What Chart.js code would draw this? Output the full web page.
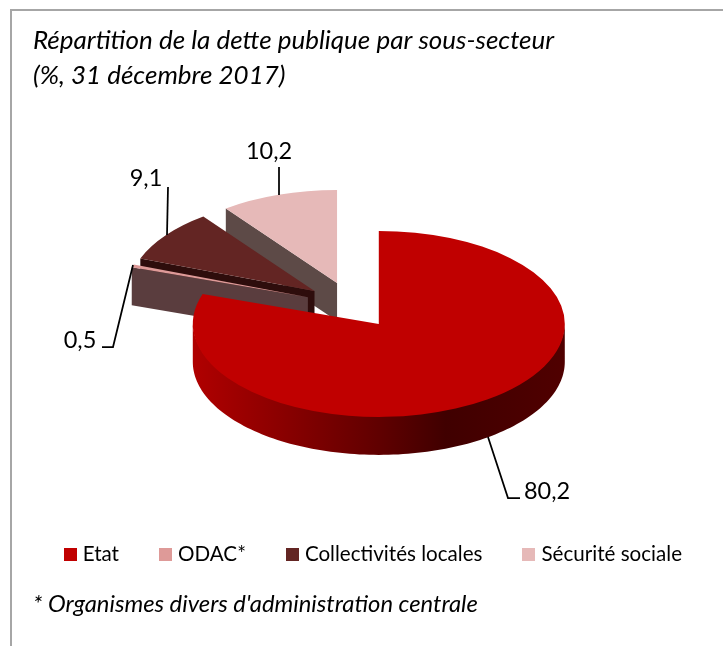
<!DOCTYPE html>
<html lang="fr">
<head>
<meta charset="utf-8">
<style>
html,body{margin:0;padding:0;background:#fff;width:723px;height:646px;overflow:hidden}
#frame{position:absolute;left:10px;top:9px;right:0;bottom:0;border-left:2px solid #a6a6a6;border-top:2px solid #a6a6a6}
canvas{position:absolute;left:0;top:0}
</style>
<script src="https://cdn.jsdelivr.net/npm/chart.js@4/dist/chart.umd.min.js"></script>
</head>
<body>
<div id="frame"></div>
<canvas id="c" width="723" height="646"></canvas>
<script>
const categories = ['Etat', 'ODAC*', 'Collectivités locales', 'Sécurité sociale'];
const values = [80.2, 0.5, 9.1, 10.2];
const valueLabels = ['80,2', '0,5', '9,1', '10,2'];
const topColours = ['#C00000', '#DE9A98', '#632523', '#E6B9B8'];
const wallColours = ['#7a0000', '#5a3d3e', '#2e0d0c', '#5d4a47'];
const titleLines = ['Répartition de la dette publique par sous-secteur', '(%, 31 décembre 2017)'];
const footnote = "* Organismes divers d'administration centrale";

const FONT = 'Lato, Carlito, sans-serif';
const TEXT_LEFT = 33;
const LEGEND_SIZE = 20.6;
const PIE = {cx: 351.7, cy: 305, r: 186, squash: 0.5, depth: 38, explode: 0.25};
const LEADERS = [
  {pts: [[488,437],[508,498],[520,498]], tx: 547, ty: 491},
  {pts: [[102,347],[113,347],[133,265]], tx: 80, ty: 340},
  {pts: [[168,187],[167,235]], tx: 146, ty: 178},
  {pts: [[279,167],[279,195]], tx: 269, ty: 151}
];

function swatch(colour) {
  const s = document.createElement('canvas');
  s.width = 13; s.height = 13;
  const g = s.getContext('2d');
  g.fillStyle = colour; g.fillRect(0, 0, 13, 13);
  return s;
}

const pie3d = {
  id: 'pie3d',
  afterLayout(chart) {
    chart.chartArea = {
      left: PIE.cx - PIE.r, right: PIE.cx + PIE.r,
      top: PIE.cy - PIE.r, bottom: PIE.cy + PIE.r,
      width: PIE.r * 2, height: PIE.r * 2
    };
    const lg = chart.legend;
    const dy = 554 - (lg.top + lg.options.labels.padding + lg.options.labels.font.size / 2);
    lg.top += dy; lg.bottom += dy;
    chart.boxes.forEach(b => {
      if (b !== lg && b.options && b.options.text) { b.left = TEXT_LEFT; }
    });
  },
  beforeDatasetDraw(chart, args) {
    const ctx = chart.ctx;
    const arcs = args.meta.data;
    for (let i = arcs.length - 1; i >= 0; i--) {
      const el = arcs[i];
      const a0 = el.startAngle, a1 = el.endAngle, r = el.outerRadius;
      const mid = (a0 + a1) / 2;
      const ex = Math.cos(mid) * r * PIE.explode;
      const ey = Math.sin(mid) * r * PIE.explode;
      const px = a => el.x + ex + Math.cos(a) * r;
      const py = a => el.y + (ey + Math.sin(a) * r) * PIE.squash;
      const ax = el.x + ex, ay = el.y + ey * PIE.squash;

      // cut face at the start of the slice
      if (Math.sin(a0 + Math.PI / 2) < 0) {
        ctx.fillStyle = wallColours[i];
        ctx.beginPath();
        ctx.moveTo(ax, ay);
        ctx.lineTo(px(a0), py(a0));
        ctx.lineTo(px(a0), py(a0) + PIE.depth);
        ctx.lineTo(ax, ay + PIE.depth);
        ctx.closePath();
        ctx.fill();
      }
      // outer cylinder wall, front half only (tucked 2px under the top face)
      const from = Math.max(a0, 0), to = Math.min(a1, Math.PI);
      if (to > from) {
        const g = ctx.createLinearGradient(px(Math.PI), 0, px(0), 0);
        g.addColorStop(0, '#b00000');
        g.addColorStop(0.24, '#8a0000');
        g.addColorStop(0.5, '#600000');
        g.addColorStop(0.68, '#400000');
        g.addColorStop(1, '#500000');
        ctx.fillStyle = g;
        ctx.beginPath();
        for (let k = 0; k <= 120; k++) {
          const a = from + (to - from) * k / 120;
          ctx.lineTo(px(a), py(a) - 2);
        }
        for (let k = 120; k >= 0; k--) {
          const a = from + (to - from) * k / 120;
          ctx.lineTo(px(a), py(a) + PIE.depth);
        }
        ctx.closePath();
        ctx.fill();
      }
      // top face, drawn by the library's own arc element
      ctx.save();
      ctx.translate(ax, ay);
      ctx.scale(1, PIE.squash);
      ctx.translate(-el.x, -el.y);
      el.draw(ctx);
      ctx.restore();
    }
    return false;
  },
  afterDraw(chart) {
    const ctx = chart.ctx;
    ctx.save();
    ctx.strokeStyle = '#000';
    ctx.lineWidth = 1.75;
    ctx.fillStyle = '#000';
    ctx.font = '23.5px ' + FONT;
    ctx.textAlign = 'center';
    ctx.textBaseline = 'middle';
    LEADERS.forEach((l, i) => {
      ctx.beginPath();
      l.pts.forEach((p, k) => k ? ctx.lineTo(p[0], p[1]) : ctx.moveTo(p[0], p[1]));
      ctx.stroke();
      ctx.fillText(valueLabels[i], l.tx, l.ty);
    });
    ctx.restore();
  }
};

new Chart(document.getElementById('c'), {
  type: 'pie',
  data: {
    labels: categories,
    datasets: [{data: values, backgroundColor: topColours, borderWidth: 0, clip: false}]
  },
  plugins: [pie3d],
  options: {
    responsive: false,
    animation: false,
    layout: {padding: {left: 18, right: -9, top: 0, bottom: 0}},
    plugins: {
      tooltip: {enabled: false},
      title: {
        display: true, text: titleLines, align: 'start', color: '#000',
        font: {family: FONT, size: 26, style: 'italic', weight: 'normal', lineHeight: 35 / 26},
        padding: {top: 23, bottom: 0}
      },
      subtitle: {
        display: true, text: footnote, position: 'bottom', align: 'start', color: '#000',
        font: {family: FONT, size: 23.8, style: 'italic', weight: 'normal', lineHeight: 1.2},
        padding: {top: 0, bottom: 27}
      },
      legend: {
        position: 'bottom',
        labels: {
          color: '#000',
          font: {family: FONT, size: LEGEND_SIZE},
          padding: 44.3,
          usePointStyle: true,
          pointStyleWidth: 25 - LEGEND_SIZE,
          generateLabels: () => categories.map((text, index) => ({
            text, index, datasetIndex: 0, hidden: false,
            fillStyle: topColours[index], strokeStyle: topColours[index], lineWidth: 0,
            pointStyle: swatch(topColours[index])
          }))
        }
      }
    }
  }
});
</script>
</body>
</html>
